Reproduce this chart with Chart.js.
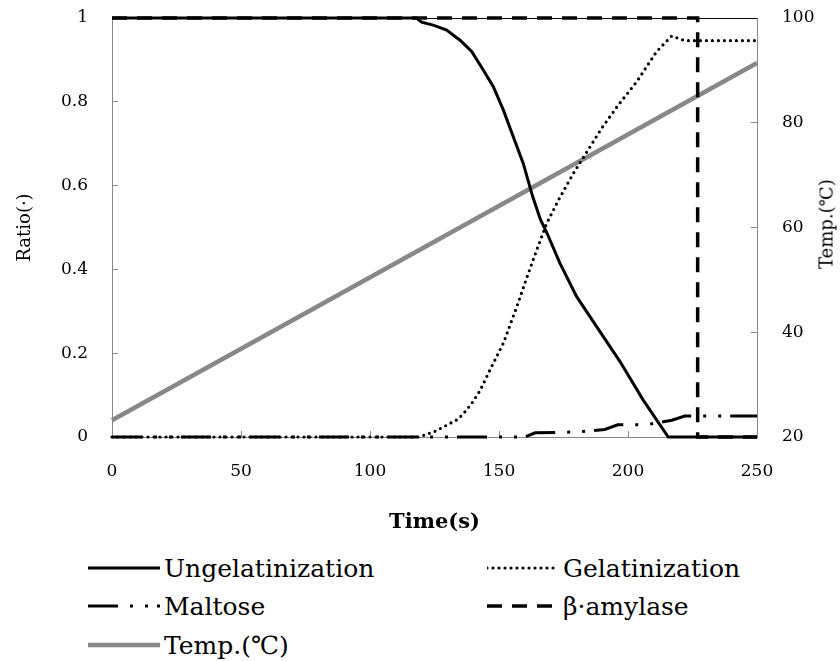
<!DOCTYPE html>
<html>
<head>
<meta charset="utf-8">
<script src="https://cdn.jsdelivr.net/npm/chart.js@4/dist/chart.umd.min.js"></script>
<style>
  html, body { margin: 0; padding: 0; background: #fff; }
  #wrap { position: relative; width: 840px; height: 661px; overflow: hidden; }
  #c { position: absolute; left: 0; top: 0; }
  .lg { position: absolute; display: flex; align-items: center; height: 36px;
        font-family: "DejaVu Serif", serif; font-size: 25px; color: #000; white-space: nowrap; }
  .lg svg { margin-right: 4px; flex: none; }
  #t2 { position: absolute; left: 826px; top: 224px; font-family: "DejaVu Serif", serif;
        font-size: 18px; color: #000; white-space: nowrap;
        transform: translate(-50%, -50%) rotate(-90deg); }
</style>
</head>
<body>
<div id="wrap">
  <canvas id="c" width="840" height="545"></canvas>
  <div id="t2">Temp.(℃)</div>
  <div id="legend"></div>
</div>
<script>
// Ratio of ungelatinized starch over time (s)
const ungelTime  = [0, 118, 120, 124.5, 129.7, 134.9, 139.4, 143.9, 147.8, 151.7, 155.5, 159.4, 163, 166, 168.5, 173.6, 180.1, 187.9, 196.9, 205.9, 215.6, 250];
const ungelRatio = [1, 1, 0.99, 0.983, 0.971, 0.947, 0.92, 0.876, 0.836, 0.78, 0.717, 0.653, 0.575, 0.52, 0.488, 0.415, 0.335, 0.263, 0.18, 0.088, 0, 0];

// Ratio of gelatinized starch
const gelTime  = [0, 119, 125, 130, 134, 136, 139.4, 142.6, 146.5, 151.7, 156.9, 160.7, 164.6, 168.5, 173, 178.8, 183.3, 189.8, 196.2, 203.4, 211.1, 216.9, 222, 250];
const gelRatio = [0, 0, 0.013, 0.029, 0.042, 0.054, 0.08, 0.11, 0.16, 0.224, 0.311, 0.379, 0.446, 0.51, 0.565, 0.629, 0.673, 0.737, 0.792, 0.848, 0.92, 0.957, 0.946, 0.946];

// Maltose produced
const maltoseTime  = [0, 160, 164, 180, 191, 196, 207, 217, 222, 250];
const maltoseRatio = [0, 0, 0.01, 0.012, 0.018, 0.029, 0.029, 0.04, 0.05, 0.05];

// Remaining beta-amylase activity
const amylaseTime  = [0, 227, 227, 250];
const amylaseRatio = [1, 1, 0, 0];

// Product temperature (right axis)
const tempTime  = [0, 250];
const tempValue = [23.2, 91.4];

const legendLabels = ['Ungelatinization', 'Gelatinization', 'Maltose', 'β·amylase', 'Temp.(℃)'];

const pts = (xs, ys) => xs.map((x, i) => ({ x: x, y: ys[i] }));
const SERIF = '"DejaVu Serif", serif';
const tickFont = { family: SERIF, size: 17 };

const base = { pointRadius: 0, pointHoverRadius: 0, tension: 0, fill: false, borderCapStyle: 'butt', clip: 6 };

// vertical axes: fixed width, no extra label overhang so the plot keeps its full height
const fixVertical = w => s => { s.width = w; s.paddingTop = 0; s.paddingBottom = 0; };

const chart = new Chart(document.getElementById('c'), {
  type: 'line',
  data: {
    datasets: [
      Object.assign({}, base, { label: legendLabels[0], data: pts(ungelTime, ungelRatio), yAxisID: 'y',
        borderColor: '#000', borderWidth: 3, borderDash: [] }),
      Object.assign({}, base, { label: legendLabels[1], data: pts(gelTime, gelRatio), yAxisID: 'y',
        borderColor: '#000', borderWidth: 3.2, borderDash: [0, 6], borderCapStyle: 'round' }),
      Object.assign({}, base, { label: legendLabels[2], data: pts(maltoseTime, maltoseRatio), yAxisID: 'y',
        borderColor: '#000', borderWidth: 3, borderDash: [30, 12, 3, 12, 3, 9] }),
      Object.assign({}, base, { label: legendLabels[3], data: pts(amylaseTime, amylaseRatio), yAxisID: 'y',
        borderColor: '#000', borderWidth: 3.5, borderDash: [15, 10] }),
      Object.assign({}, base, { label: legendLabels[4], data: pts(tempTime, tempValue), yAxisID: 'y2',
        borderColor: '#888', borderWidth: 4.5, borderDash: [] })
    ]
  },
  options: {
    responsive: false,
    animation: false,
    events: [],
    layout: { padding: { top: 18, left: 0, right: 0, bottom: 0 } },
    plugins: { legend: { display: false }, tooltip: { enabled: false } },
    scales: {
      x: {
        type: 'linear', min: 0, max: 250, position: 'bottom',
        ticks: { stepSize: 50, color: '#000', font: tickFont, padding: 30, maxRotation: 0 },
        grid: { drawOnChartArea: false, tickLength: -6, color: '#888' },
        border: { color: '#888', width: 1 },
        title: { display: true, text: 'Time(s)', color: '#000',
                 font: { family: SERIF, size: 21, weight: 'bold' }, padding: { top: 0, bottom: 10 } },
        afterFit: s => { s.height = 108; s.paddingLeft = 0; s.paddingRight = 0; }
      },
      xTop: {
        type: 'linear', min: 0, max: 250, position: 'top',
        ticks: { display: false }, grid: { display: false },
        border: { color: '#000', width: 1 },
        afterFit: s => { s.height = 0; }
      },
      y: {
        min: 0, max: 1, position: 'left',
        ticks: { stepSize: 0.2, color: '#000', font: tickFont, padding: 30,
                 callback: v => String(Number(v.toFixed(2))) },
        grid: { drawOnChartArea: false, tickLength: -6, color: '#888' },
        border: { color: '#888', width: 1 },
        title: { display: true, text: 'Ratio(·)', color: '#000',
                 font: { family: SERIF, size: 18 }, padding: { top: 15 } },
        afterFit: fixVertical(112)
      },
      y2: {
        min: 20, max: 100, position: 'right',
        ticks: { stepSize: 20, color: '#000', font: tickFont, padding: 31 },
        grid: { drawOnChartArea: false, tickLength: -6, color: '#888' },
        border: { color: '#888', width: 1 },
        afterFit: fixVertical(83)
      }
    }
  }
});

// Legend built from the datasets' own styles, laid out in two columns
const slots = [[88, 568], [487, 568], [88, 606], [487, 606], [88, 645]];
const legendEl = document.getElementById('legend');
const NS = 'http://www.w3.org/2000/svg';
chart.data.datasets.forEach((ds, i) => {
  const item = document.createElement('div');
  item.className = 'lg';
  item.style.left = slots[i][0] + 'px';
  item.style.top = (slots[i][1] - 18) + 'px';
  const svg = document.createElementNS(NS, 'svg');
  svg.setAttribute('width', '72');
  svg.setAttribute('height', '10');
  const ln = document.createElementNS(NS, 'line');
  ln.setAttribute('x1', '0'); ln.setAttribute('x2', '72');
  ln.setAttribute('y1', '5'); ln.setAttribute('y2', '5');
  ln.setAttribute('stroke', ds.borderColor);
  ln.setAttribute('stroke-width', ds.borderWidth);
  ln.setAttribute('stroke-linecap', ds.borderCapStyle || 'butt');
  if (ds.borderDash && ds.borderDash.length) ln.setAttribute('stroke-dasharray', ds.borderDash.join(' '));
  svg.appendChild(ln);
  item.appendChild(svg);
  const span = document.createElement('span');
  span.textContent = ds.label;
  item.appendChild(span);
  legendEl.appendChild(item);
});
</script>
</body>
</html>
